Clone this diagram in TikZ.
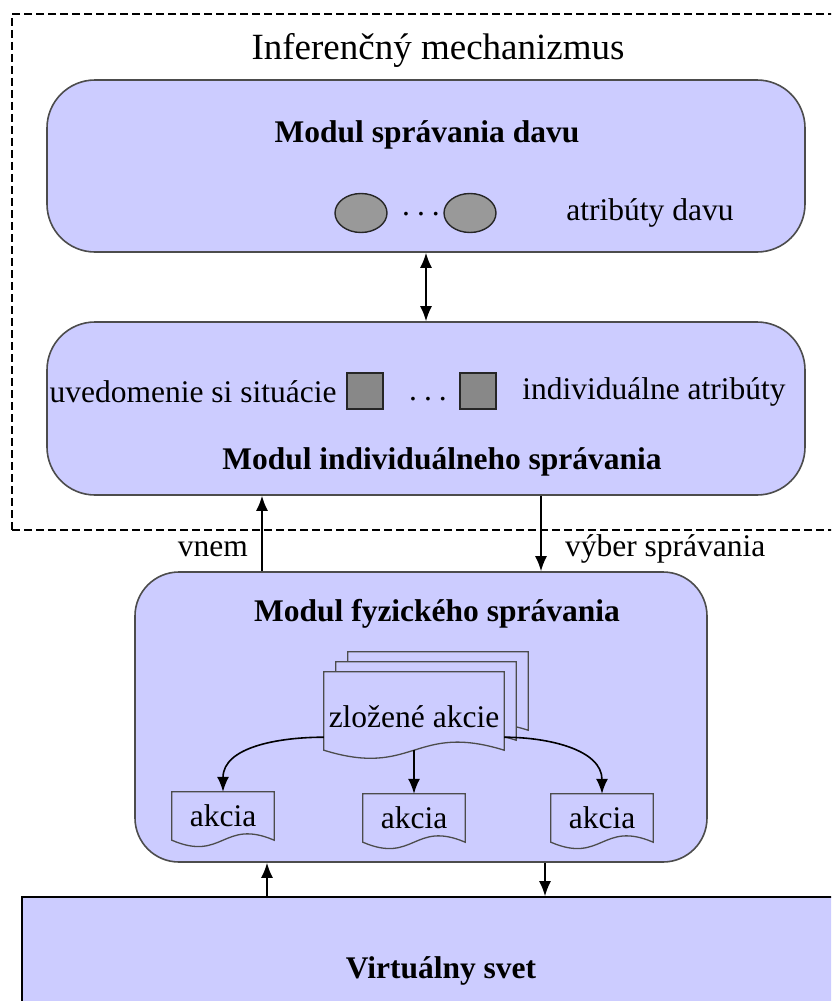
\documentclass[tikz,border=0pt]{standalone}
\usepackage{fontspec}
\setmainfont{Liberation Serif}
\usetikzlibrary{arrows.meta,shapes.geometric,calc}
\definecolor{lav}{HTML}{CCCCFF}
\definecolor{blobgray}{HTML}{999999}
\definecolor{cellgray}{HTML}{888888}
\newcommand{\spreaddots}{.\hspace{7pt}.\hspace{7pt}.}
\begin{document}
\begin{tikzpicture}[x=1pt,y=-1pt,>={Latex[length=15pt,width=12pt]},
	every node/.style={font=\fontsize{31.5}{38}\selectfont},
	headline/.style={font=\fontsize{31.5}{38}\selectfont\bfseries},
	module/.style={shape=rectangle,rounded corners=48pt,draw=black!70,line width=1.6pt,fill=lav},
	blob/.style={shape=ellipse,minimum width=52pt,minimum height=39pt,inner sep=0pt,draw=black!85,line width=1.4pt,fill=blobgray},
	cell/.style={shape=rectangle,minimum size=36pt,inner sep=0pt,draw=black!85,line width=1.4pt,fill=cellgray},
	docbox/.style={shape=rectangle,inner sep=0pt},
	docline/.style={draw=black!70,line width=1.3pt},
	link/.style={line width=1.6pt}]
	\path[use as bounding box,clip] (0,0) rectangle (831,1001);

	\node (inferencia) at (431,272) [shape=rectangle,draw,dash pattern=on 8pt off 4pt,line width=1.2pt,minimum width=838pt,minimum height=516pt] {};
	\node (inferenciaTitle) at (438,50) [font=\fontsize{37}{44}\selectfont] {Inferenčný mechanizmus};

	\node (davModule) at (426,166) [module,minimum width=758pt,minimum height=172pt] {};
	\node (davTitle) at (427,135) [headline] {Modul správania davu};
	\node (blobA) at (361,213) [blob] {};
	\node (blobB) at (470,213) [blob] {};
	\node (blobDots) at (421,214) {\spreaddots};
	\node (davAttr) at (650,213) {atribúty davu};

	\node (indivModule) at (426,408.5) [module,minimum width=758pt,minimum height=173pt] {};
	\node (indivAware) at (46,392) [anchor=west] {uvedomenie si situácie};
	\node (cellA) at (365,391) [cell] {};
	\node (cellB) at (478,391) [cell] {};
	\node (cellDots) at (428,399) {\spreaddots};
	\node (indivAttr) at (654,392) {individuálne atribúty};
	\node (indivTitle) at (442,462) [headline] {Modul individuálneho správania};

	\draw[link,<->] (davModule.south) -- (indivModule.north);

	\node (fyzModule) at (421,717) [module,rounded corners=44pt,minimum width=572pt,minimum height=290pt] {};
	\node (fyzTitle) at (437,614) [headline] {Modul fyzického správania};

	\node (zlozeneA) at (438,691) [docbox,minimum width=180pt,minimum height=78pt] {};
	\node (zlozeneB) at (426,701) [docbox,minimum width=180pt,minimum height=78pt] {};
	\node (zlozeneC) at (414,711) [docbox,minimum width=180pt,minimum height=78pt] {};
	\foreach \d in {zlozeneA,zlozeneB,zlozeneC}
		\draw[docline,fill=lav] (\d.north west) -- (\d.north east) -- (\d.south east)
			.. controls ($(\d.south)+(0,-28)$) and ($(\d.south)+(0,28)$) .. (\d.south west) -- cycle;
	\node (zlozeneText) at (414,717) {zložené akcie};

	\node (akciaA) at (223,816) [docbox,minimum width=102pt,minimum height=48pt] {akcia};
	\node (akciaB) at (414,818) [docbox,minimum width=102pt,minimum height=48pt] {akcia};
	\node (akciaC) at (602,818) [docbox,minimum width=102pt,minimum height=48pt] {akcia};
	\foreach \d in {akciaA,akciaB,akciaC}
		\draw[docline] (\d.north west) -- (\d.north east) -- (\d.south east)
			.. controls ($(\d.south)+(0,-22)$) and ($(\d.south)+(0,22)$) .. (\d.south west) -- cycle;

	\draw[link,->] ([yshift=13pt]zlozeneC.south west) to[out=180,in=90] (akciaA.north);
	\draw[link,->] (zlozeneC.south) -- (akciaB.north);
	\draw[link,->] ([yshift=13pt]zlozeneC.south east) to[out=0,in=90] (akciaC.north);

	\coordinate (vnemFoot) at ($(fyzModule.north)+(-159,0)$);
	\draw[link,->] (vnemFoot) -- (vnemFoot |- indivModule.south) node[pos=0.29,left=10pt] (vnemLabel) {vnem};
	\coordinate (vyberFoot) at ($(fyzModule.north)+(120,0)$);
	\draw[link,->] (vyberFoot |- indivModule.south) -- (vyberFoot) node[pos=0.71,right=20pt] (vyberLabel) {výber správania};

	\node (svet) at (441,971) [shape=rectangle,draw=black,line width=1.6pt,fill=lav,minimum width=838pt,minimum height=148pt,headline] {Virtuálny svet};
	\coordinate (vnemSrc) at ($(svet.north)+(-174,0)$);
	\draw[link,->] (vnemSrc) -- (vnemSrc |- fyzModule.south);
	\coordinate (akciaOut) at ($(svet.north)+(104,0)$);
	\draw[link,->] (akciaOut |- fyzModule.south) -- (akciaOut);
\end{tikzpicture}
\end{document}
